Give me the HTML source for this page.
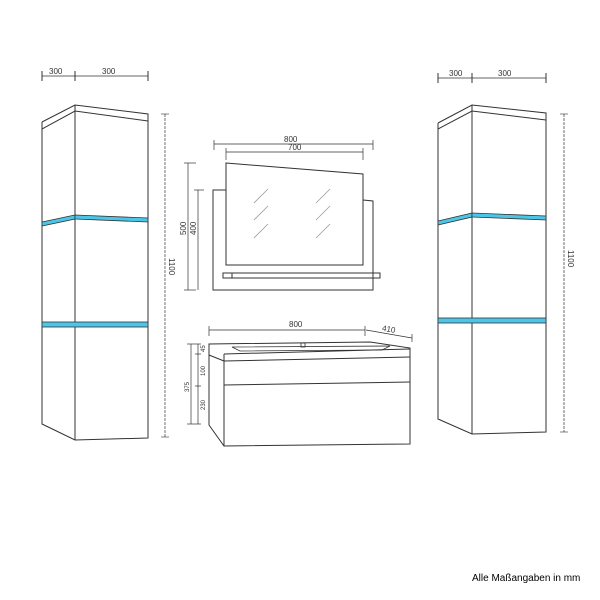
<!DOCTYPE html>
<html><head><style>body{margin:0;background:#fff}svg{display:block}text{font-family:"Liberation Sans",sans-serif;fill:#333}</style></head><body>
<svg width="600" height="600" viewBox="0 0 600 600" xmlns="http://www.w3.org/2000/svg">
<g stroke="#333" stroke-width="1" fill="none">
<!-- left cabinet -->
<polyline points="42,122 75,105 148,114 148,438 75,440 42,424 42,122"/>
<line x1="75" y1="105" x2="75" y2="440"/>
<polyline points="42,129 75,111 148,121"/>
<line x1="42" y1="71" x2="42" y2="81"/><line x1="75" y1="71" x2="75" y2="81"/><line x1="148" y1="71" x2="148" y2="81"/>
<line x1="42" y1="76" x2="148" y2="76" stroke-width="0.7"/>
<line x1="165" y1="114" x2="165" y2="437" stroke-width="0.7" stroke-dasharray="3,1"/>
<line x1="161" y1="114" x2="169" y2="114" stroke-width="0.6"/><line x1="161" y1="437" x2="169" y2="437" stroke-width="0.6"/>
<!-- right cabinet -->
<polyline points="438,123 472,105 546,113 546,432 472,434 438,419 438,123"/>
<line x1="472" y1="105" x2="472" y2="434"/>
<polyline points="438,129 472,111 546,120"/>
<line x1="438" y1="73" x2="438" y2="83"/><line x1="472" y1="73" x2="472" y2="83"/><line x1="546" y1="73" x2="546" y2="83"/>
<line x1="438" y1="78" x2="546" y2="78" stroke-width="0.7"/>
<line x1="564" y1="114" x2="564" y2="432" stroke-width="0.7" stroke-dasharray="3,1"/>
<line x1="560" y1="114" x2="568" y2="114" stroke-width="0.6"/><line x1="560" y1="432" x2="568" y2="432" stroke-width="0.6"/>
<!-- mirror -->
<polyline points="226,190 213,190 213,290 373,290 373,201 363,200"/>
<polygon points="226,163 363,174 363,265 226,265"/>
<rect x="223" y="273" width="157" height="5"/>
<line x1="232" y1="273" x2="232" y2="278"/>
<g stroke="#999" stroke-width="0.8">
<line x1="254" y1="203" x2="268" y2="189"/><line x1="254" y1="220" x2="268" y2="206"/><line x1="254" y1="238" x2="268" y2="224"/>
<line x1="316" y1="203" x2="330" y2="189"/><line x1="316" y1="220" x2="330" y2="206"/><line x1="316" y1="238" x2="330" y2="224"/>
</g>
<g stroke-width="0.7">
<line x1="214" y1="144" x2="373" y2="144"/><line x1="214" y1="140" x2="214" y2="150"/><line x1="373" y1="140" x2="373" y2="150"/>
<line x1="226" y1="152" x2="363" y2="152"/><line x1="226" y1="148" x2="226" y2="160"/><line x1="363" y1="148" x2="363" y2="160"/>
<line x1="188" y1="163" x2="188" y2="290"/><line x1="184" y1="163" x2="196" y2="163"/><line x1="184" y1="290" x2="196" y2="290"/>
<line x1="198" y1="190" x2="198" y2="290"/><line x1="194" y1="190" x2="204" y2="190"/>
</g>
<!-- vanity -->
<polyline points="224,361 209,355 209,344 370,342 410,348 410,444 224,446 209,425 209,355"/>
<line x1="224" y1="354" x2="410" y2="349"/>
<line x1="224" y1="361" x2="410" y2="357"/>
<line x1="224" y1="354" x2="224" y2="446"/>
<line x1="224" y1="385" x2="410" y2="382"/>
<polygon points="232,347 390,346 382,350 240,351" stroke-width="0.8"/>
<rect x="301" y="343" width="4" height="4" stroke-width="0.8"/>
<g stroke-width="0.7">
<line x1="209" y1="330" x2="365" y2="330"/><line x1="209" y1="326" x2="209" y2="336"/><line x1="365" y1="326" x2="365" y2="336"/>
<line x1="366" y1="330" x2="412" y2="338"/><line x1="412" y1="334" x2="412" y2="342"/>
<line x1="191" y1="344" x2="191" y2="424"/><line x1="187" y1="344" x2="201" y2="344"/><line x1="187" y1="424" x2="201" y2="424"/>
<line x1="198" y1="344" x2="198" y2="424"/><line x1="195" y1="354" x2="201" y2="354"/><line x1="195" y1="386" x2="201" y2="386"/>
</g>
</g>
<!-- blue bands -->
<g fill="#4cc6e8" stroke="#333" stroke-width="0.8">
<polygon points="42,222 75,215 75,219 42,226"/>
<polygon points="75,215 148,218 148,222 75,219"/>
<rect x="42" y="322" width="106" height="5"/>
<polygon points="438,221 472,213 472,217 438,225"/>
<polygon points="472,213 546,216 546,220 472,217"/>
<rect x="438" y="318" width="108" height="5"/>
</g>
<g font-size="8">
<text x="49" y="74">300</text><text x="102" y="74">300</text>
<text x="449" y="76">300</text><text x="498" y="76">300</text>
<text x="284" y="142">800</text><text x="288" y="150">700</text>
<text x="289" y="327">800</text>
<text x="382" y="332" transform="rotate(10 390 330)">410</text>
<text transform="translate(169,258) rotate(90)">1100</text>
<text transform="translate(568,250) rotate(90)">1100</text>
<text transform="translate(186,235) rotate(-90)">500</text>
<text transform="translate(196,235) rotate(-90)">400</text>
<text font-size="6" transform="translate(189,392) rotate(-90)">375</text>
<text font-size="6" transform="translate(205,352) rotate(-90)">45</text>
<text font-size="6" transform="translate(205,376) rotate(-90)">100</text>
<text font-size="6" transform="translate(205,410) rotate(-90)">230</text>
</g>
<text x="472" y="581" font-size="10" style="fill:#000">Alle Maßangaben in mm</text>
</svg>
</body></html>
